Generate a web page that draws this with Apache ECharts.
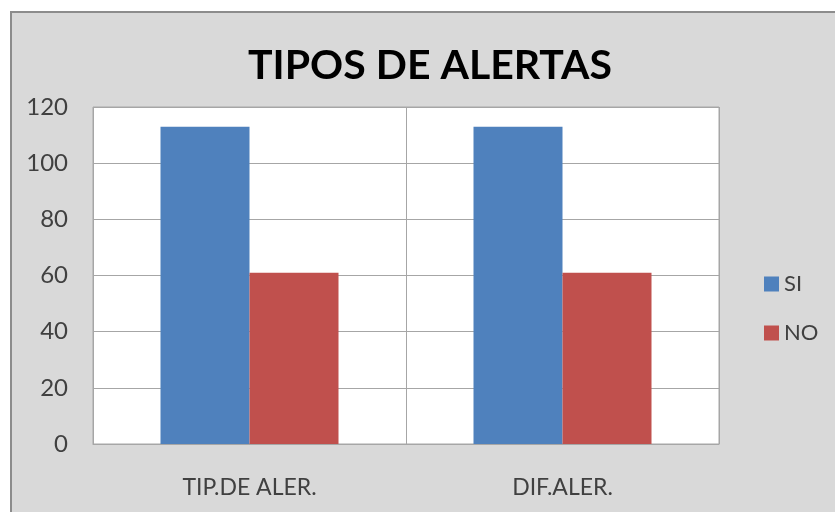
<!DOCTYPE html>
<html>
<head>
<meta charset="utf-8">
<script src="https://cdn.jsdelivr.net/npm/echarts@6/dist/echarts.min.js"></script>
<style>
  html, body { margin: 0; padding: 0; background: #fff; }
  #chart {
    position: absolute; left: 10px; top: 11px;
    width: 823px; height: 499px;
    background: #d9d9d9;
    border-left: 2px solid #8c8c8c;
    border-top: 2px solid #8c8c8c;
  }
</style>
</head>
<body>
<div id="chart"></div>
<script>
// datos
const categories = ['TIP.DE ALER.', 'DIF.ALER.']
const seriesNames = ['SI', 'NO']
const siValues = [113, 113]
const noValues = [61, 61]

const chart = echarts.init(document.getElementById('chart'))
chart.setOption({
  animation: false,
  title: {
    text: 'TIPOS DE ALERTAS',
    left: 413, top: 27, textAlign: 'center',
    textStyle: { fontFamily: 'Lato, sans-serif', fontWeight: 'bold', fontSize: 41, color: '#000' }
  },
  legend: {
    data: seriesNames,
    orient: 'vertical',
    left: 747, top: 255,
    itemWidth: 15, itemHeight: 15, itemGap: 27,
    icon: 'rect',
    textStyle: { fontFamily: 'Lato, sans-serif', fontSize: 22, color: '#404040' }
  },
  grid: {
    left: 81, top: 94, width: 626, height: 337,
    show: true, backgroundColor: '#fff', borderColor: '#a6a6a6', borderWidth: 1
  },
  xAxis: {
    type: 'category',
    data: categories,
    axisLine: { lineStyle: { color: '#a6a6a6' } },
    axisTick: { show: false },
    splitLine: { show: true, lineStyle: { color: '#a6a6a6' } },
    axisLabel: { margin: 32, fontFamily: 'Lato, sans-serif', fontSize: 23, color: '#404040' }
  },
  yAxis: {
    type: 'value',
    min: 0, max: 120, interval: 20,
    axisLine: { show: false },
    axisTick: { show: false },
    splitLine: { lineStyle: { color: '#a6a6a6' } },
    axisLabel: { margin: 25, fontFamily: 'Lato, sans-serif', fontSize: 24, color: '#404040' }
  },
  series: [
    { name: 'SI', type: 'bar', data: siValues, barWidth: 89, barGap: '0%', itemStyle: { color: '#4f81bd' } },
    { name: 'NO', type: 'bar', data: noValues, barWidth: 89, barGap: '0%', itemStyle: { color: '#c0504d' } }
  ]
})
</script>
</body>
</html>
